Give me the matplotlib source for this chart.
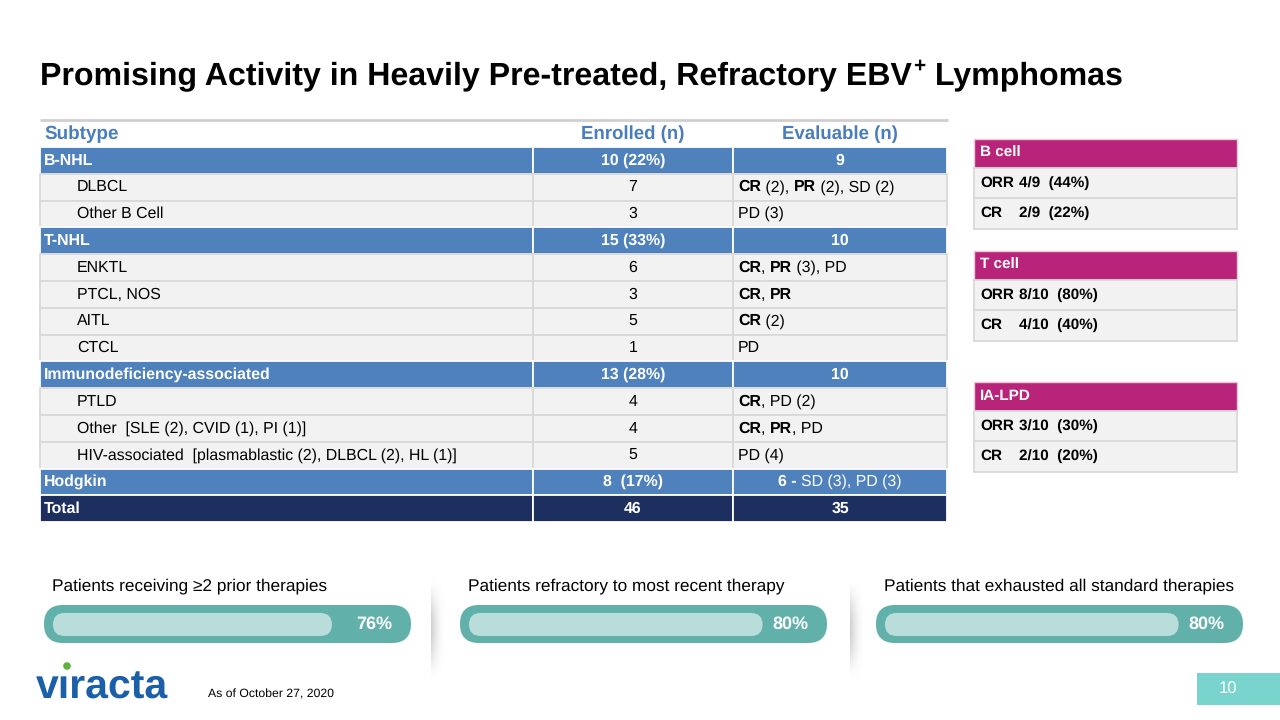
import numpy as np
import matplotlib.pyplot as plt
from matplotlib.patches import Rectangle, FancyBboxPatch, Circle

FAM = ['Liberation Sans', 'DejaVu Sans']
plt.rcParams['font.family'] = FAM
plt.rcParams['text.hinting'] = 'no_hinting'

# ---- data ----
title_main = "Promising Activity in Heavily Pre-treated, Refractory EBV"
title_sup = "+"
title_end = " Lymphomas"

col_heads = ["Subtype", "Enrolled (n)", "Evaluable (n)"]
subtypes = ["B-NHL", "DLBCL", "Other B Cell", "T-NHL", "ENKTL", "PTCL, NOS",
            "AITL", "CTCL", "Immunodeficiency-associated", "PTLD",
            "Other  [SLE (2), CVID (1), PI (1)]",
            "HIV-associated  [plasmablastic (2), DLBCL (2), HL (1)]",
            "Hodgkin", "Total"]
row_kind = ["group", "sub", "sub", "group", "sub", "sub", "sub", "sub",
            "group", "sub", "sub", "sub", "group", "total"]
enrolled = ["10 (22%)", "7", "3", "15 (33%)", "6", "3", "5", "1",
            "13 (28%)", "4", "4", "5", "8  (17%)", "46"]
# evaluable responses as (text, bold) runs
evaluable = [
    [("9", True)],
    [("CR", True), (" (2), ", False), ("PR", True), (" (2), SD (2)", False)],
    [("PD (3)", False)],
    [("10", True)],
    [("CR", True), (", ", False), ("PR", True), (" (3), PD", False)],
    [("CR", True), (", ", False), ("PR", True)],
    [("CR", True), (" (2)", False)],
    [("PD", False)],
    [("10", True)],
    [("CR", True), (", PD (2)", False)],
    [("CR", True), (", ", False), ("PR", True), (", PD", False)],
    [("PD (4)", False)],
    [("6 - ", True), ("SD (3), PD (3)", False)],
    [("35", True)],
]

resp_groups = ["B cell", "T cell", "IA-LPD"]
orr_frac = ["4/9", "8/10", "3/10"]
orr_pct = [44, 80, 30]
cr_frac = ["2/9", "4/10", "2/10"]
cr_pct = [22, 40, 20]

bar_labels = ["Patients receiving \u22652 prior therapies",
              "Patients refractory to most recent therapy",
              "Patients that exhausted all standard therapies"]
bar_pcts = [76, 80, 80]

footnote = "As of October 27, 2020"
page_no = "10"

# ---- colours ----
HEAD_BLUE = '#4a7dbd'
GROUP_BLUE = '#4f81bd'
NAVY = '#1c2f5e'
LIGHT = '#f2f2f2'
GRID = '#d9d9d9'
MAGENTA = '#b8247a'
TEAL = '#62b0aa'
TEAL_LIGHT = '#b9dddb'

fig = plt.figure(figsize=(12.8, 7.2), dpi=100)
ax = fig.add_axes([0, 0, 1, 1])
ax.set_xlim(0, 1280)
ax.set_ylim(720, 0)
ax.axis('off')
renderer = fig.canvas.get_renderer()


def text_w(t, size, weight):
    # advance width in pixels, keeps leading/trailing spaces
    a = ax.text(0, 0, 'x' + t + 'x', fontsize=size, fontweight=weight)
    b = ax.text(0, 0, 'xx', fontsize=size, fontweight=weight)
    w = a.get_window_extent(renderer).width - b.get_window_extent(renderer).width
    a.remove()
    b.remove()
    return w


def draw_runs(x, y, runs, size, color, ha='left'):
    widths = [text_w(t, size, 'bold' if b else 'normal') for t, b in runs]
    if ha == 'center':
        x = x - sum(widths) / 2
    for (t, b), w in zip(runs, widths):
        ax.text(x, y, t, fontsize=size, fontweight='bold' if b else 'normal',
                color=color, ha='left', va='center')
        x += w


# ---- title ----
TS = 23.1
draw_runs(40, 76, [(title_main, True)], TS, 'black')
tw = text_w(title_main, TS, 'bold')
ax.text(40 + tw + 1, 66, title_sup, fontsize=15, fontweight='bold', va='center')
pw = text_w(title_sup, 15, 'bold')
ax.text(40 + tw + pw + 2, 76, title_end, fontsize=TS, fontweight='bold', va='center')

# ---- main table ----
FS = 11.4
x_cols = [40, 533, 733, 947]
top_y = 147
row_h = 26.8
ax.plot([40, 948], [120, 120], color='#cfcfcf', lw=2, solid_capstyle='butt')
ax.text(44, 134, col_heads[0], fontsize=13.6, fontweight='bold', color=HEAD_BLUE, va='center')
ax.text(633, 134, col_heads[1], fontsize=13.4, fontweight='bold', color=HEAD_BLUE,
        va='center', ha='center')
ax.text(840, 134, col_heads[2], fontsize=13.4, fontweight='bold', color=HEAD_BLUE,
        va='center', ha='center')

for i, (name, kind, enr, ev) in enumerate(zip(subtypes, row_kind, enrolled, evaluable)):
    y0 = top_y + i * row_h
    yc = y0 + row_h / 2
    if kind == 'sub':
        fc, ec, tc = LIGHT, GRID, 'black'
    elif kind == 'group':
        fc, ec, tc = GROUP_BLUE, 'white', 'white'
    else:
        fc, ec, tc = NAVY, 'white', 'white'
    for c in range(3):
        ax.add_patch(Rectangle((x_cols[c], y0), x_cols[c + 1] - x_cols[c], row_h,
                               facecolor=fc, edgecolor=ec, lw=1.3))
    if kind == 'sub':
        ax.text(77, yc, name, fontsize=FS, color=tc, va='center')
        ax.text(633, yc, enr, fontsize=FS, color=tc, va='center', ha='center')
        draw_runs(738, yc, ev, FS, tc)
    else:
        ax.text(44, yc, name, fontsize=FS, fontweight='bold', color=tc, va='center')
        ax.text(633, yc, enr, fontsize=FS, fontweight='bold', color=tc,
                va='center', ha='center')
        draw_runs(840, yc, ev, FS, tc, ha='center')

# ---- response summary tables ----
blocks_y = [139, 251, 382]
for gy, grp, of, op, cf, cp in zip(blocks_y, resp_groups, orr_frac, orr_pct, cr_frac, cr_pct):
    heights = [28.5, 30.5, 30.5]
    ys = [gy, gy + heights[0], gy + heights[0] + heights[1]]
    ax.add_patch(Rectangle((974, ys[0]), 263, heights[0], facecolor=MAGENTA,
                           edgecolor='#e9c8da', lw=1))
    ax.text(980, ys[0] + heights[0] / 2, grp, fontsize=11, fontweight='bold',
            color='white', va='center')
    for k, (lab, frac, pct) in enumerate([("ORR", of, op), ("CR", cf, cp)]):
        y0 = ys[k + 1]
        ax.add_patch(Rectangle((974, y0), 263, heights[k + 1], facecolor=LIGHT,
                               edgecolor=GRID, lw=1.3))
        yc = y0 + heights[k + 1] / 2
        ax.text(980, yc, lab, fontsize=11, fontweight='bold', va='center')
        ax.text(1019, yc, f"{frac}  ({pct}%)", fontsize=11, fontweight='bold',
                va='center')

# ---- soft one-sided shadows between the bars ----
for sx in [431, 850]:
    gx = np.linspace(0, 1, 40)
    gy = np.linspace(0, 1, 120)
    X, Y = np.meshgrid(gx, gy)
    alpha = (1 - X) ** 2 * np.sin(np.pi * Y) ** 1.5 * 0.32
    img = np.zeros((120, 40, 4))
    img[..., :3] = 0.4
    img[..., 3] = alpha
    ax.imshow(img, extent=(sx, sx + 16, 680, 578), interpolation='bilinear',
              aspect='auto', zorder=1)
ax.set_xlim(0, 1280)
ax.set_ylim(720, 0)

# ---- progress bars ----
bar_x = [44, 460, 876]
bar_w = 367
for bx, lab, pct in zip(bar_x, bar_labels, bar_pcts):
    ax.text(bx + 8, 586, lab, fontsize=12.4, va='center', color='black')
    ax.add_patch(FancyBboxPatch((bx, 605), bar_w, 38,
                                boxstyle="round,pad=0,rounding_size=19",
                                facecolor=TEAL, edgecolor='none', zorder=2))
    inner_w = bar_w * pct / 100
    ax.add_patch(FancyBboxPatch((bx + 9, 613), inner_w, 23,
                                boxstyle="round,pad=0,rounding_size=11.5",
                                facecolor=TEAL_LIGHT, edgecolor='none', zorder=3))
    ax.text(bx + bar_w - 37, 624, f"{pct}%", fontsize=13, fontweight='bold',
            color='white', va='center', ha='center', zorder=4)

# ---- footer ----
ax.text(36, 688, "v\u0131racta", fontsize=29.5, fontweight='bold', color='#1b5fa8',
        va='center', ha='left')
ax.add_patch(Circle((67, 666), 3.8, facecolor='#5cb338', edgecolor='none'))
ax.text(208, 694, footnote, fontsize=8.8, va='center', color='black')
ax.add_patch(Rectangle((1197, 673), 83, 32, facecolor='#7ad4ce', edgecolor='none'))
ax.text(1228, 689, page_no, fontsize=12, color='white', va='center', ha='center')

fig.savefig('out.png', dpi=100)
